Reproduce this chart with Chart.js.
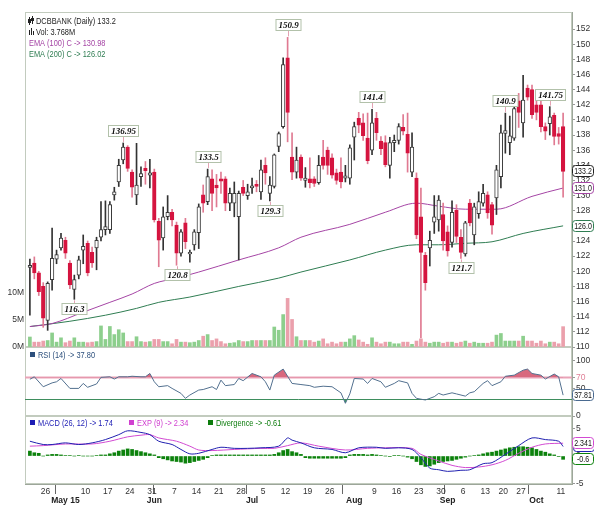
<!DOCTYPE html>
<html lang="en">
<head>
    <meta charset="UTF-8">
    <title>DCBBANK (Daily)</title>
    <script src="https://cdn.jsdelivr.net/npm/chart.js"></script>
    <style>
        body { margin: 0; background: #fff; }
        #wrap { position: relative; width: 594px; height: 508px; overflow: hidden; }
        #wrap canvas { position: absolute; left: 0; }
        #priceChart { top: 0; }
        #rsiChart { top: 340px; }
        #macdChart { top: 408px; }
    </style>
</head>
<body>
<div id="wrap">
    <canvas id="priceChart" width="594" height="356"></canvas>
    <canvas id="rsiChart" width="594" height="84"></canvas>
    <canvas id="macdChart" width="594" height="100"></canvas>
</div>
<script>
    const FONT = "'Liberation Sans', Arial, sans-serif";
    const NARROW = 0.78; // squeeze for the Arial Narrow look of the legends
    const LEGEND_FONT = '9.5px ' + FONT;

    // trading days, 2015
    const dates = [
        '04-21','04-22','04-23','04-24','04-27','04-28','04-29','04-30',
        '05-04','05-05','05-06','05-07','05-08','05-11','05-12','05-13','05-14','05-15','05-18','05-19','05-20','05-21','05-22','05-25','05-26','05-27','05-28','05-29',
        '06-01','06-02','06-03','06-04','06-05','06-08','06-09','06-10','06-11','06-12','06-15','06-16','06-17','06-18','06-19','06-22','06-23','06-24','06-25','06-26','06-29','06-30',
        '07-01','07-02','07-03','07-06','07-07','07-08','07-09','07-10','07-13','07-14','07-15','07-16','07-17','07-20','07-21','07-22','07-23','07-24','07-27','07-28','07-29','07-30','07-31',
        '08-03','08-04','08-05','08-06','08-07','08-10','08-11','08-12','08-13','08-14','08-17','08-18','08-19','08-20','08-21','08-24','08-25','08-26','08-27','08-28','08-31',
        '09-01','09-02','09-03','09-04','09-07','09-08','09-09','09-10','09-11','09-14','09-15','09-16','09-18','09-21','09-22','09-23','09-24','09-28','09-29','09-30',
        '10-01','10-05','10-06','10-07','10-08','10-09','10-12'
    ];

    const opens = [120.5,121.1,119.8,118,113.5,118.9,121.6,123.1,124.1,121.1, 117.6,119.5,122.8,123.7,122.5,123.1,124.5,125.5,125.5,130.1,
        131.8,134.7,136.4,133.1,130.1,132.5,133.6,132.7,133.1,126.6, 124.4,127.2,127.8,126.1,122.4,126.4,122.3,123.5,125.1,130.1,
        129.2,132.2,131.4,132.2,132.2,129,129,127.2,131.1,130, 131,131.5,130.5,134,130.3,131.2,136.5,139.1,148.2,135.1,
        133.1,135.1,132,132.2,132.2,131.7,135.1,136,135,133, 133.1,132.3,132.3,137.7,140.2,139.6,137.6,136,140.2,137.2,
        137,134,137,137.3,139,138.1,133.1,132.3,127.2,122.1, 123.1,126.5,126.8,127.5,125.2,123.8,128.1,124.5,122.3,129,
        124.8,127.6,129,130.1,128.8,129.7,132.5,138.2,137,137.6, 142.5,139.6,144.2,144,142,142,139.1,139.5,140.6,138.2, 139.1];
    const highs = [121.6,121.9,120,118.5,118.6,125.7,122.8,125,124.5,121.4, 119.5,122,124.8,124,123.2,124.5,129.2,129.3,129.2,131.1,
        134.8,136.95,136.6,133.4,136.9,133.8,134.5,134.8,133.5,127, 128.5,130,128.2,126.5,125.5,127,122.8,125.5,128.9,131.4,
        133.5,133.4,132.8,133.1,132.5,131,131.8,130.6,132,131.5, 132.3,132,134.7,135,132.5,135.5,138.4,148.2,150.9,138.3,
        136.4,135.4,133.7,135,132.5,135.3,137.3,136.4,135.5,133.5, 135,134,136.7,139.7,141,140.8,140.9,141.4,141,137.8,
        137.9,137.7,138,139.5,140.7,140.9,138.3,133,131,122.5, 125.3,130,130,129,126,129.3,128.8,125.5,126.6,129.5,
        129,130.5,131.5,130.5,129.1,134,139.3,140.9,140.5,142.5, 143.5,145.9,144.6,144.6,142.8,142.5,139.6,141.75,140.9,139, 140.9];
    const lows = [114.2,119,116.8,112.6,112.2,117.5,121,122.8,121.7,117.7, 116.3,119,121,119.4,120.5,120.2,124,124.8,125,129.4,
        131.2,134.2,133.2,129.8,128.8,131.2,131.5,131,126.5,120.6, 122.8,126.8,126,120.8,122,123,121.2,122.8,123,127.8,
        128.8,128,128.5,130.3,128,128,127.2,121.5,130,129.5, 130.3,130.5,129.5,131.5,129.3,131,135.8,138.9,137.1,132.1,
        132.3,132,131.1,131,131.2,131.5,133.5,132.8,132.3,131.5, 131,131.8,131.5,134.7,138.3,137.3,134.2,135.4,137.3,135.4,
        133.8,132.3,135.8,136.8,138,133.1,132.5,124.3,111.2,117.5, 120.7,125,125.3,122.8,122,123.2,123.8,121.7,122,126,
        123.5,127,128.6,127,124.9,127.5,131,135.6,135.4,137.3, 139,137.7,142.6,140.2,140,138.4,137.4,138,136.7,136.8, 129.8];
    const closes = [120.8,119.8,117.3,113.8,118.4,121.7,122.2,124.4,122.4,118.2, 118.9,121.5,123.3,119.8,121.1,124.1,125.5,125.9,128.8,130.5,
        134,136.4,133.6,131.1,131.4,132.9,133.3,133,126.8,124.1, 127.2,127.8,126.8,122.4,125.2,123.9,122.5,125.2,128.5,129,
        132.5,130.3,131,131.9,129,130.3,130.3,130.3,130.3,130.5, 131.3,131.2,133.4,133,131.4,135.4,138.2,147.3,141,133.1,
        134.7,132.3,132.3,131.7,131.6,134,134,134,132.7,132, 131.8,132.6,136.3,139.1,139.3,137.9,134.6,139.6,138.3,136.2,
        134.1,137,137.3,139.1,138.5,135.6,136.4,124.8,122.5,118.5, 124.1,127.2,129.4,124,122.7,127.8,124.6,122.5,126.4,126.4,
        128.5,129.2,130.3,127.7,126.1,133.4,138.3,138.6,137.9,141.5, 141,142.6,143,140.7,141,139.1,138.5,140.4,137.8,137.8, 133.2];
    // millions of shares
    const volumes = [1.85,0.9,0.9,1.1,1.2,2.6,0.9,1.7,0.8,1.1, 1.7,0.9,0.9,0.8,0.9,1.0,3.9,1.4,3.8,2.3,
        3.2,2.6,1.0,1.0,1.9,1.0,0.9,1.0,1.4,1.4, 1.0,1.0,0.6,1.4,0.9,0.9,0.8,0.9,1.2,2.0,
        2.3,1.2,1.5,1.0,0.6,0.7,0.8,1.2,1.0,1.0, 1.2,1.2,1.2,1.2,1.2,3.7,3.1,6.0,9.0,5.1,
        1.9,1.2,1.2,1.2,0.9,1.1,1.5,0.6,0.9,0.6, 0.9,0.9,1.5,2.1,1.3,0.9,0.5,1.7,0.9,0.6,
        0.9,0.9,0.6,0.6,0.9,0.9,0.5,1.1,1.5,0.9, 0.7,0.9,0.9,0.7,0.9,0.9,0.7,0.9,1.1,0.7,
        0.9,0.7,0.7,0.7,0.9,2.2,2.5,1.1,1.1,1.1, 1.1,2.0,1.1,1.1,0.7,1.1,0.6,0.9,0.9,0.6, 3.768];

    // [day index, value]
    const ema100 = [[0,112.7],[5,113.1],[12,114.6],[18,115.9],[23,117.0],[28,118.4],[33,119.1],[38,119.9],[47,121.5],[56,123.1],
        [61,124.5],[72,126.2],[80,127.8],[87,129.0],[92,128.6],[98,128.2],[105,128.2],[113,129.9],[120,131.0]];
    const ema200 = [[0,112.7],[9,113.4],[17,114.2],[24,115.1],[29,115.9],[36,116.6],[47,118.0],[56,119.1],[61,119.9],[72,121.5],
        [80,122.8],[87,123.5],[92,123.5],[98,123.7],[104,123.9],[111,125.0],[120,126.0]];
    const rsi = [[0,66.5],[1,71],[3,53],[5,60],[6,62],[7,68],[9,50],[11,50],[12,59],[13,52],[15,58],[16,70],[18,71],[19,67],[20,71],
        [22,71],[23,72],[25,71],[26,71],[27,77],[28,62],[29,53],[31,55],[32,50],[34,41],[35,32],[36,38],[38,47],[39,48],[41,53],
        [42,48],[43,65],[44,55],[46,57],[47,68],[48,64],[50,77],[52,71],[53,62],[54,47],[55,74],[57,85],[59,59],[61,57],[63,55],
        [64,52],[66,54],[68,53],[70,42],[71,23],[72,40],[73,68],[75,67],[76,59],[77,68],[79,62],[80,52],[82,59],[83,64],[85,60],
        [86,41],[87,32],[89,29],[91,35],[92,41],[93,38],[95,42],[96,40],[98,36],[99,42],[100,44],[102,59],[103,64],[104,55],[106,62],
        [107,72],[109,74],[111,83],[112,85],[113,77],[115,74],[116,67],[118,76],[119,71],[120,37.8]];
    const macd = [[0,2.7],[3,2.1],[5,2.1],[8,2.4],[11,2.1],[14,2.4],[17,3.0],[20,3.9],[22,4.6],[25,4.3],[27,3.9],[29,2.7],[32,2.1],
        [34,1.2],[36,0.4],[38,0.5],[41,1.2],[43,1.6],[46,1.4],[49,1.4],[52,1.5],[56,1.8],[58,3.3],[59,2.9],[61,2.4],[64,1.5],[68,1.2],
        [71,0.6],[74,1.5],[78,1.6],[80,1.4],[83,1.5],[86,1.2],[88,-0.3],[90,-2.2],[92,-2.5],[94,-2.8],[97,-2.6],[99,-2.5],[102,-1.4],
        [104,-1.2],[107,0.3],[110,1.9],[113,3.3],[116,3.0],[119,2.7],[120,1.74]];
    const signal = [[0,1.8],[3,1.9],[8,2.2],[14,2.2],[18,2.7],[22,3.5],[25,3.8],[27,3.9],[29,3.3],[33,2.7],[36,1.8],[38,1.1],[41,1.0],
        [46,1.2],[52,1.4],[55,1.4],[58,1.9],[61,2.4],[65,1.8],[71,1.1],[76,1.4],[80,1.5],[86,1.4],[88,0.3],[92,-0.9],[95,-1.7],[98,-2.1],
        [101,-2.0],[104,-1.6],[107,-0.8],[110,0.5],[113,1.6],[116,2.2],[120,2.34]];
    const divergence = [0.9,0.6,0.5,0,0.2,0.3,0.3,0.2,0.1,0.1, 0,0.1,0,0,0,0.1,0.2,0.2,0.4,0.6,
        0.9,1.1,1.3,1.2,1.0,0.8,0.6,0.4,0.2,-0.3, -0.5,-0.7,-0.9,-1.0,-1.1,-1.3,-1.2,-1.0,-0.8,-0.6,
        -0.3,0.1,0.2,0.2,0.2,0.2,0.2,0.2,0.2,0.2, 0.2,0.2,0.2,0.2,0.2,0.3,0.6,1.0,1.2,0.8,
        0.6,0.3,-0.3,-0.4,-0.4,-0.4,-0.4,-0.4,-0.4,-0.4, -0.4,-0.3,0.2,0.3,0.3,0.3,0.2,0.3,0.2,0.1,
        0,-0.1,0.1,0.1,0,-0.2,-0.5,-1.0,-1.6,-1.9, -1.8,-1.5,-1.2,-1.0,-0.9,-0.8,-0.6,-0.4,-0.2,0,
        0.1,0.2,0.4,0.6,0.7,0.9,1.1,1.3,1.5,1.6, 1.7,1.7,1.6,1.5,1.2,0.9,0.7,0.4,0.2,-0.1, -0.6];

    const priceTicks = [110,112,114,116,118,120,122,124,126,128,130,132,134,136,138,140,142,144,146,148,150,152];
    const volTicks = [0, 5, 10];
    const rsiTicks = [0, 50, 70, 100];
    const rsiLevels = [70, 30];
    const macdTicks = [-5, 0, 5];
    // Sunday labels, keyed by the Monday that follows
    const weekTicks = [['04-27','26'],['05-11','10'],['05-18','17'],['05-25','24'],['06-01','31'],['06-08','7'],['06-15','14'],
        ['06-22','21'],['06-29','28'],['07-06','5'],['07-13','12'],['07-20','19'],['07-27','26'],['08-10','9'],['08-17','16'],
        ['08-24','23'],['08-31','30'],['09-07','6'],['09-14','13'],['09-21','20'],['09-28','27'],['10-12','11']];
    const monthTicks = [['05-04','May 15'],['06-01','Jun'],['07-01','Jul'],['08-03','Aug'],['09-01','Sep'],['10-01','Oct']];
    // swing highs / lows that carry a price tag
    const markIdx = [10, 21, 33, 40, 54, 58, 77, 97, 107, 117];
    const markSide = ['low','high','low','high','low','high','high','low','high','high'];

    const last = dates.length - 1;
    const isUp = i => closes[i] >= opens[i];
    const pts = arr => arr.map(([x, y]) => ({x, y}));
    const xRange = { type: 'linear', min: -1.1, max: 122, offset: false, display: false };
    const fixWidth = w => scale => { scale.width = w; };
    const tickFont = { family: FONT, size: 8.5 };

    function narrowText(ctx, text, x, y, color, align) {
        ctx.save();
        ctx.translate(x, y);
        ctx.scale(NARROW, 1);
        ctx.fillStyle = color;
        ctx.textAlign = align || 'left';
        ctx.textBaseline = 'middle';
        ctx.fillText(text, 0, 0);
        ctx.restore();
    }

    const frame = {
        id: 'frame',
        beforeDatasetsDraw(chart) {
            const {ctx, chartArea: a} = chart;
            ctx.save();
            ctx.strokeStyle = '#c2cbbe';
            ctx.lineWidth = 1;
            ctx.strokeRect(Math.round(a.left) + 0.5, Math.round(a.top) + 0.5, Math.round(a.right - a.left) - 1, Math.round(a.bottom - a.top) - 1);
            ctx.restore();
        }
    };

    function valueBoxes(items) {
        return {
            id: 'valueBoxes',
            afterDraw(chart) {
                const ctx = chart.ctx;
                ctx.save();
                ctx.font = '9px ' + FONT;
                items.forEach(b => {
                    const y = Math.round(chart.scales[b.scale].getPixelForValue(b.value));
                    const x0 = chart.chartArea.right + 0.5 + (b.dx || 0);
                    ctx.beginPath();
                    ctx.roundRect(x0, y - 5.5, 21, 11, 3);
                    ctx.fillStyle = '#fff';
                    ctx.fill();
                    ctx.strokeStyle = b.color;
                    ctx.lineWidth = 1;
                    ctx.stroke();
                    narrowText(ctx, b.text, x0 + 10.5, y + 0.5, '#111', 'center');
                });
                ctx.restore();
            }
        };
    }

    const priceLegend = {
        id: 'priceLegend',
        afterDraw(chart) {
            const {ctx, chartArea: a} = chart;
            const x = a.left + 4;
            ctx.save();
            ctx.font = LEGEND_FONT;
            // little candle icon
            ctx.fillStyle = '#222';
            ctx.fillRect(x, a.top + 5, 1, 8);
            ctx.fillRect(x - 1, a.top + 7, 3, 4);
            ctx.fillRect(x + 3, a.top + 4, 1, 8);
            ctx.fillRect(x + 2, a.top + 6, 3, 3);
            // little volume icon
            ctx.fillRect(x, a.top + 18, 1, 5);
            ctx.fillRect(x + 2, a.top + 16, 1, 7);
            ctx.fillRect(x + 4, a.top + 19, 1, 4);
            narrowText(ctx, 'DCBBANK (Daily) ' + closes[last], x + 7, a.top + 9, '#222');
            narrowText(ctx, 'Vol: ' + volumes[last] + 'M', x + 7, a.top + 20, '#222');
            narrowText(ctx, 'EMA (100) C -> 130.98', x, a.top + 31, '#a545a5');
            narrowText(ctx, 'EMA (200) C -> 126.02', x, a.top + 42, '#2f7d52');
            ctx.restore();
        }
    };

    const priceMarks = {
        id: 'priceMarks',
        afterDatasetsDraw(chart) {
            const {ctx, scales: {x, y}} = chart;
            ctx.save();
            ctx.font = "italic bold 9px 'Liberation Serif', 'DejaVu Serif', serif";
            ctx.textAlign = 'center';
            ctx.textBaseline = 'middle';
            ctx.lineWidth = 1;
            markIdx.forEach((i, k) => {
                const high = markSide[k] === 'high';
                const v = high ? highs[i] : lows[i];
                const px = Math.round(x.getPixelForValue(i)) + 0.5;
                const py = y.getPixelForValue(v);
                const text = String(v);
                const w = Math.round(ctx.measureText(text).width) + 5, h = 11;
                const cy = Math.round(high ? py - 12 : py + 10);
                ctx.strokeStyle = '#e3a3b3';
                ctx.beginPath();
                ctx.moveTo(px, high ? py - 1 : py + 1);
                ctx.lineTo(px, high ? cy + h / 2 : cy - h / 2);
                ctx.stroke();
                ctx.fillStyle = '#fff';
                ctx.fillRect(px - w / 2, cy - h / 2, w, h);
                ctx.strokeStyle = '#b2c1aa';
                ctx.strokeRect(px - w / 2, cy - h / 2, w, h);
                ctx.fillStyle = '#111';
                ctx.fillText(text, px, cy + 0.5);
            });
            ctx.restore();
        }
    };

    new Chart(document.getElementById('priceChart'), {
        type: 'bar',
        data: {
            datasets: [
                {
                    label: 'Volume', yAxisID: 'yVol', order: 6, grouped: false, barThickness: 3,
                    data: volumes.map((v, i) => ({x: i, y: v})),
                    backgroundColor: volumes.map((v, i) => isUp(i) ? '#8dcf8d' : '#eba0ac')
                },
                {
                    type: 'line', label: 'EMA (200)', yAxisID: 'y', order: 5, data: pts(ema200),
                    borderColor: '#2f7d52', borderWidth: 1, pointRadius: 0, cubicInterpolationMode: 'monotone'
                },
                {
                    type: 'line', label: 'EMA (100)', yAxisID: 'y', order: 4, data: pts(ema100),
                    borderColor: '#a545a5', borderWidth: 1, pointRadius: 0, cubicInterpolationMode: 'monotone'
                },
                {
                    label: 'Wick', yAxisID: 'y', order: 3, grouped: false, barThickness: 1,
                    data: dates.map((d, i) => ({x: i, y: [lows[i], highs[i]]})),
                    backgroundColor: dates.map((d, i) => isUp(i) ? '#333' : '#e07a92')
                },
                {
                    label: 'Body', yAxisID: 'y', order: 2, grouped: false, barThickness: 3.6, minBarLength: 1,
                    borderWidth: 1, borderSkipped: false,
                    data: dates.map((d, i) => ({x: i, y: [Math.min(opens[i], closes[i]), Math.max(opens[i], closes[i])]})),
                    backgroundColor: dates.map((d, i) => isUp(i) ? '#ffffff' : '#d5143f'),
                    borderColor: dates.map((d, i) => isUp(i) ? '#3a3a3a' : '#d5143f')
                }
            ]
        },
        options: {
            responsive: false,
            animation: false,
            layout: { padding: { top: 12, bottom: 9 } },
            plugins: { legend: { display: false }, tooltip: { enabled: false } },
            scales: {
                x: xRange,
                y: {
                    position: 'right', min: 110, max: 154.25,
                    afterFit: fixWidth(22),
                    afterBuildTicks: s => { s.ticks = priceTicks.map(v => ({value: v})); },
                    ticks: { font: tickFont, color: '#333', padding: 1 },
                    grid: { drawOnChartArea: false, tickLength: 3, color: '#999' },
                    border: { color: '#9da69a' }
                },
                yVol: {
                    position: 'left', min: 0, max: 62,
                    afterFit: fixWidth(25),
                    afterBuildTicks: s => { s.ticks = volTicks.map(v => ({value: v})); },
                    ticks: { font: tickFont, color: '#333', padding: 1, callback: v => v + 'M' },
                    grid: { drawOnChartArea: false, drawTicks: false },
                    border: { display: false }
                }
            }
        },
        plugins: [frame, priceLegend, priceMarks, valueBoxes([
            { scale: 'y', value: ema200[ema200.length - 1][1], text: '126.0', color: '#2f7d52' },
            { scale: 'y', value: ema100[ema100.length - 1][1], text: '131.0', color: '#a545a5' },
            { scale: 'y', value: closes[last], text: String(closes[last]), color: '#222' }
        ])]
    });

    const rsiLevelLines = {
        id: 'rsiLevels',
        beforeDatasetsDraw(chart) {
            const {ctx, chartArea: a, scales: {y}} = chart;
            ctx.save();
            rsiLevels.forEach((lv, k) => {
                const py = Math.round(y.getPixelForValue(lv)) + 0.5;
                ctx.strokeStyle = k === 0 ? '#e9a4b8' : '#3f8a5c';
                ctx.lineWidth = k === 0 ? 2 : 1;
                ctx.beginPath();
                ctx.moveTo(a.left, py);
                ctx.lineTo(a.right, py);
                ctx.stroke();
            });
            ctx.fillStyle = '#2c4f7c';
            ctx.fillRect(a.left + 5, a.top + 5, 5, 5);
            ctx.font = LEGEND_FONT;
            narrowText(ctx, 'RSI (14) -> 37.80', a.left + 13, a.top + 8, '#2c4f7c');
            ctx.restore();
        }
    };

    new Chart(document.getElementById('rsiChart'), {
        type: 'line',
        data: {
            datasets: [
                {
                    label: 'RSI', order: 1, data: pts(rsi), borderColor: '#52708f', borderWidth: 1, pointRadius: 0,
                    fill: { target: { value: rsiLevels[0] }, above: '#d8687e', below: 'rgba(0,0,0,0)' }
                },
                {
                    label: 'RSI low', order: 2, data: pts(rsi), borderColor: 'rgba(0,0,0,0)', borderWidth: 0, pointRadius: 0,
                    fill: { target: { value: rsiLevels[1] }, above: 'rgba(0,0,0,0)', below: '#3d9a60' }
                }
            ]
        },
        options: {
            responsive: false,
            animation: false,
            layout: { padding: { top: 7, bottom: 8, left: 25 } },
            plugins: { legend: { display: false }, tooltip: { enabled: false } },
            scales: {
                x: xRange,
                y: {
                    position: 'right', min: 0, max: 125,
                    afterFit: fixWidth(22),
                    afterBuildTicks: s => { s.ticks = rsiTicks.map(v => ({value: v})); },
                    ticks: { font: tickFont, padding: 1, color: c => (c.tick && c.tick.value === 70) ? '#e08098' : '#333' },
                    grid: { drawOnChartArea: false, tickLength: 3, color: '#999' },
                    border: { color: '#9da69a' }
                }
            }
        },
        plugins: [frame, rsiLevelLines, valueBoxes([
            { scale: 'y', value: rsi[rsi.length - 1][1], text: '37.81', color: '#4a6a90' }
        ])]
    });

    const xTicks = weekTicks.map(([d, t]) => ({value: dates.indexOf(d) - 0.5, text: t}))
        .concat(monthTicks.map(([d]) => ({value: dates.indexOf(d), text: '', month: true})))
        .sort((a, b) => a.value - b.value);
    const x2Ticks = monthTicks.map(([d, t]) => ({value: dates.indexOf(d), text: t}));

    const macdLegend = {
        id: 'macdLegend',
        afterDraw(chart) {
            const {ctx, chartArea: a} = chart;
            ctx.save();
            ctx.font = LEGEND_FONT;
            [[5, '#1c1cb4', 'MACD (26, 12) -> 1.74'], [104, '#d040d0', 'EXP (9) -> 2.34'], [183, '#0c7c0c', 'Divergence -> -0.61']]
                .forEach(([dx, color, text]) => {
                    ctx.fillStyle = color;
                    ctx.fillRect(a.left + dx, a.top + 4, 5, 5);
                    narrowText(ctx, text, a.left + dx + 8, a.top + 7, color);
                });
            ctx.restore();
        }
    };

    new Chart(document.getElementById('macdChart'), {
        type: 'bar',
        data: {
            datasets: [
                { type: 'line', label: 'MACD', order: 1, data: pts(macd), borderColor: '#2020b0', borderWidth: 1, pointRadius: 0, tension: 0.3 },
                { type: 'line', label: 'EXP', order: 2, data: pts(signal), borderColor: '#d24ad2', borderWidth: 1, pointRadius: 0, tension: 0.3 },
                {
                    label: 'Divergence', order: 3, grouped: false, barThickness: 3,
                    data: divergence.map((v, i) => ({x: i, y: v})), backgroundColor: '#0c820c'
                }
            ]
        },
        options: {
            responsive: false,
            animation: false,
            layout: { padding: { top: 8, bottom: 2, left: 25 } },
            plugins: { legend: { display: false }, tooltip: { enabled: false } },
            scales: {
                x: {
                    type: 'linear', min: xRange.min, max: xRange.max, offset: false,
                    afterBuildTicks: s => { s.ticks = xTicks.map(t => Object.assign({}, t)); },
                    afterFit: s => { s.height = 10; },
                    ticks: { autoSkip: false, maxRotation: 0, padding: -7.5, font: tickFont, color: '#333', callback: (v, i, t) => t[i].text },
                    grid: { drawOnChartArea: false, tickLength: 10, color: c => (c.tick && c.tick.month) ? '#666' : 'rgba(0,0,0,0)' },
                    border: { color: '#9da69a' }
                },
                x2: {
                    axis: 'x', type: 'linear', position: 'bottom', weight: 1, min: xRange.min, max: xRange.max, offset: false,
                    afterBuildTicks: s => { s.ticks = x2Ticks.map(t => Object.assign({}, t)); },
                    afterFit: s => { s.height = 12; },
                    ticks: { autoSkip: false, maxRotation: 0, padding: -6, font: { family: FONT, size: 8.5, weight: 'bold' }, color: '#222', callback: (v, i, t) => t[i].text },
                    grid: { display: false },
                    border: { display: false }
                },
                y: {
                    position: 'right', min: -5.1, max: 7.3,
                    afterFit: fixWidth(22),
                    afterBuildTicks: s => { s.ticks = macdTicks.map(v => ({value: v})); },
                    ticks: { font: tickFont, color: '#333', padding: 1 },
                    grid: { drawOnChartArea: false, tickLength: 3, color: '#999' },
                    border: { color: '#9da69a' }
                }
            }
        },
        plugins: [frame, macdLegend, valueBoxes([
            { scale: 'y', value: macd[macd.length - 1][1], text: '1.74', color: '#2020b0', dx: 1 },
            { scale: 'y', value: signal[signal.length - 1][1], text: '2.341', color: '#d24ad2' },
            { scale: 'y', value: divergence[last], text: '-0.6', color: '#0c820c' }
        ])]
    });
</script>
</body>
</html>
